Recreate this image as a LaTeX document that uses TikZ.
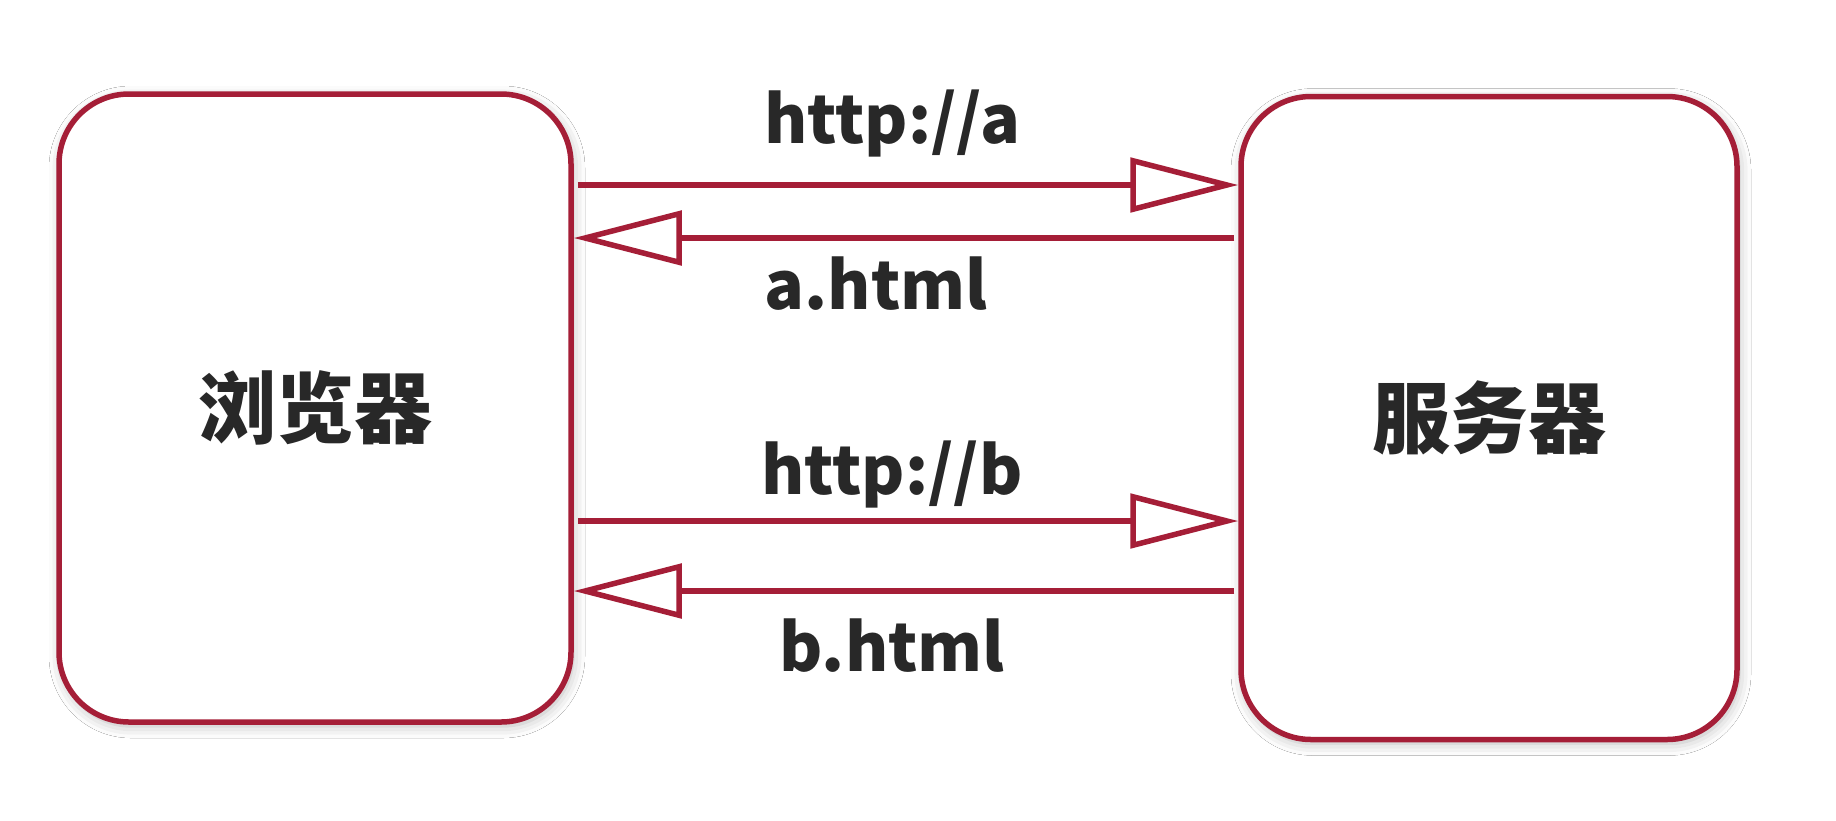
\documentclass[tikz,border=0pt]{standalone}
\usepackage{fontspec}
\newfontfamily\cjk{Noto Sans CJK SC}
\usetikzlibrary{arrows.meta,shadows.blur}
\definecolor{edge}{RGB}{165,30,55}
\definecolor{ink}{RGB}{40,40,40}
\begin{document}
\begin{tikzpicture}[x=1pt,y=-1pt,
  box/.style={draw=edge, line width=5.5pt, fill=white, rounded corners=70pt,
    inner sep=0pt, font=\cjk\bfseries\fontsize{78}{84}\selectfont, text=ink,
    blur shadow={shadow xshift=2pt, shadow yshift=-4pt, shadow blur radius=12pt, shadow opacity=28}},
  msg/.style={draw=edge, line width=5.5pt,
    -{Triangle[open, length=108pt, width=54pt, line width=5.5pt]}},
  lbl/.style={inner sep=0pt, text=ink, font=\cjk\bfseries\fontsize{66}{72}\selectfont}]
\useasboundingbox (0,0) rectangle (1836,820);
\fill[white] (0,0) rectangle (1836,820);

% the two parties
\node[box, minimum width=512pt, minimum height=628pt] (L) at (315,408) {浏览器};
\node[box, minimum width=496pt, minimum height=643pt] (R) at (1489,418) {服务器};

% message levels
\coordinate (y1) at (0,185);
\coordinate (y2) at (0,238);
\coordinate (y3) at (0,521);
\coordinate (y4) at (0,591);

\draw[msg, shorten <=4pt] (L.east |- y1) -- (R.west |- y1);
\draw[msg, shorten <=4pt] (R.west |- y2) -- (L.east |- y2);
\draw[msg, shorten <=4pt] (L.east |- y3) -- (R.west |- y3);
\draw[msg, shorten <=4pt] (R.west |- y4) -- (L.east |- y4);

% labels
\node[lbl] (t1) at (892,123) {http://a};
\node[lbl] (t2) at (876,284) {a.html};
\node[lbl] (t3) at (892,474) {http://b};
\node[lbl] (t4) at (892,646) {b.html};
\end{tikzpicture}
\end{document}
